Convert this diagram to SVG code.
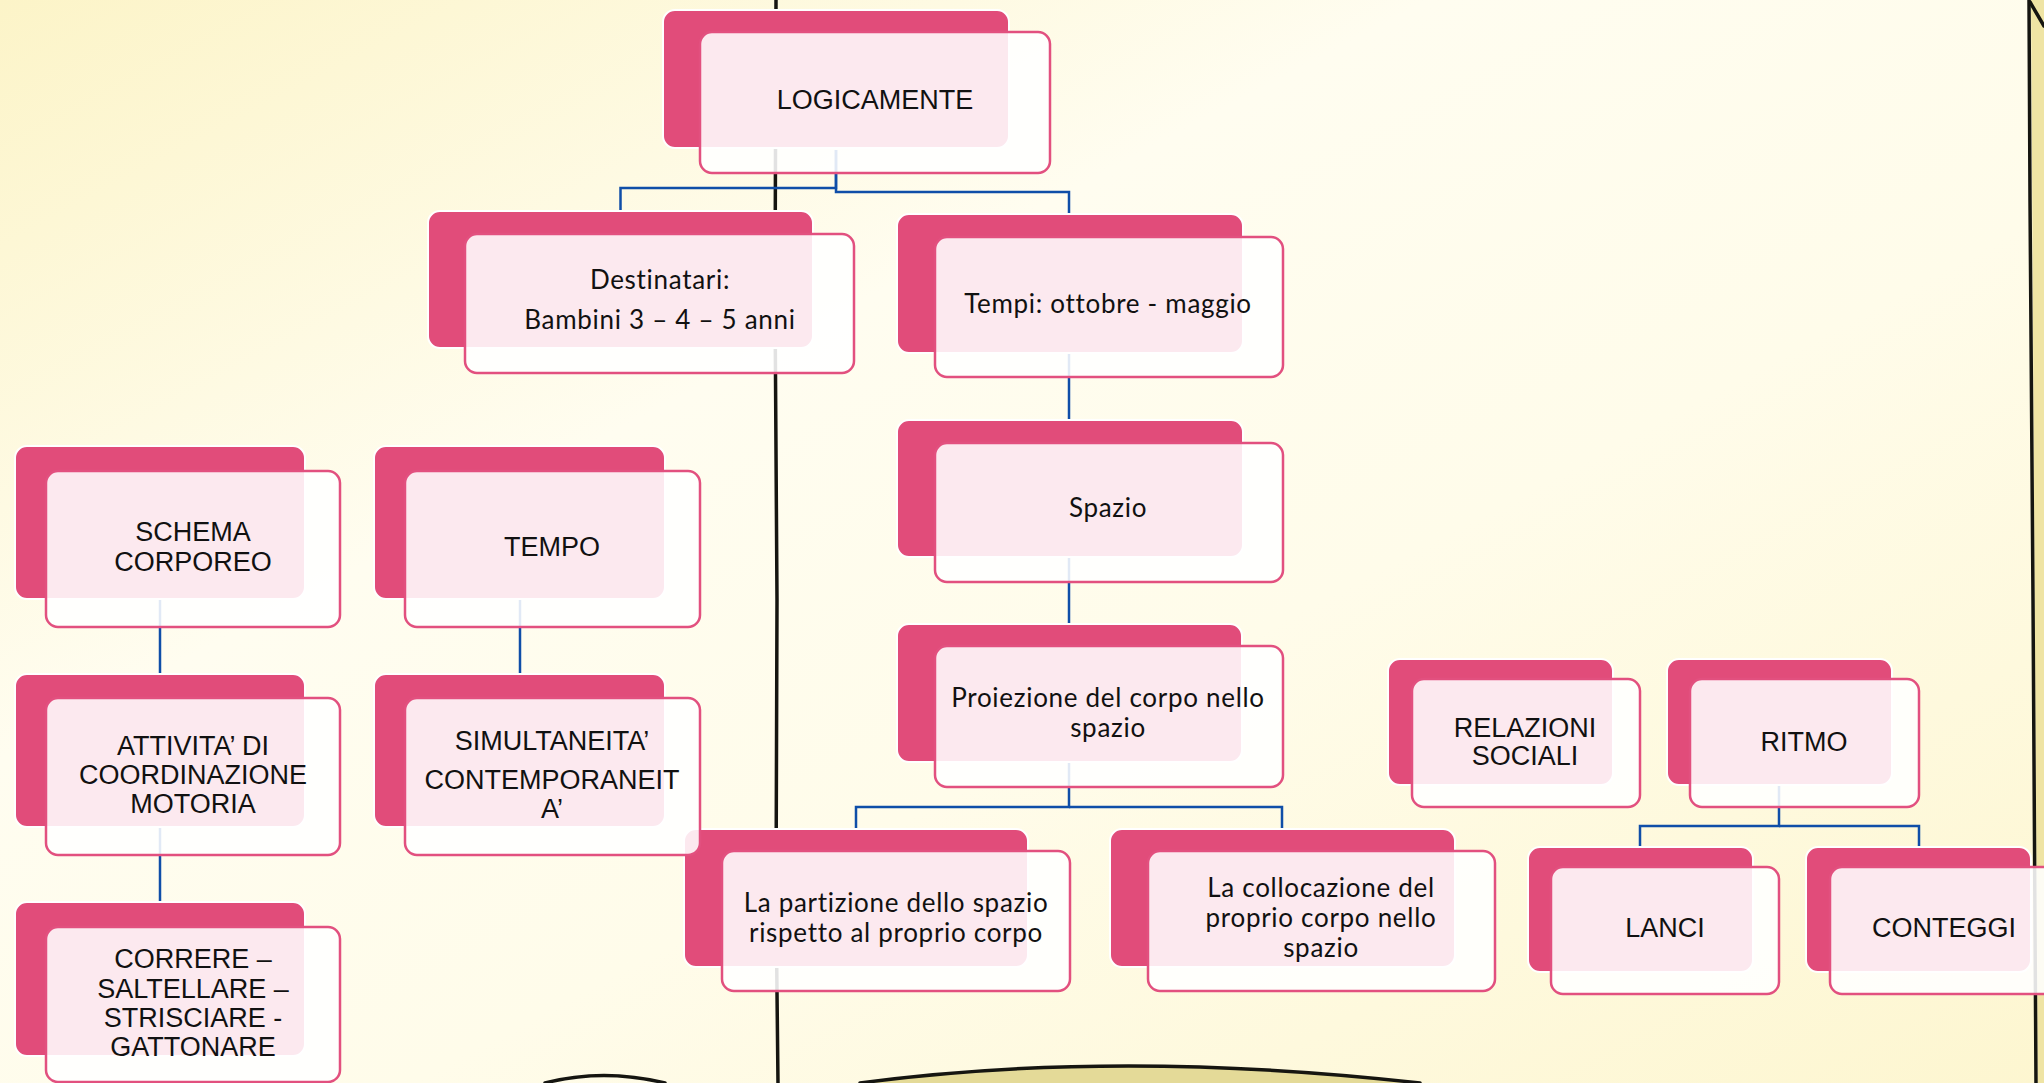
<svg xmlns="http://www.w3.org/2000/svg" width="2044" height="1083" viewBox="0 0 2044 1083">
<defs>
<style>
.back{fill:#E14C7A;stroke:#ffffff;stroke-width:2}
.front{fill:#ffffff;fill-opacity:0.88;stroke:#E2507F;stroke-width:2.5}
.t{font-family:"Liberation Sans",Arial,sans-serif;font-size:27px;fill:#111111;text-anchor:middle}
.l{font-family:Lato,"Liberation Sans",sans-serif;font-size:26px;letter-spacing:0.7px;fill:#111111;text-anchor:middle}
.c{fill:none;stroke:#0F4EA8;stroke-width:2.5}
.book{fill:none;stroke:#151510;stroke-width:3.5;stroke-linecap:round}
</style>
<linearGradient id="bg" x1="0" y1="0" x2="1" y2="1">
<stop offset="0" stop-color="#FCF4C8"/>
<stop offset="0.35" stop-color="#FFFDF0"/>
<stop offset="0.6" stop-color="#FFFCEA"/>
<stop offset="1" stop-color="#FDF6D0"/>
</linearGradient>
</defs>
<rect x="0" y="0" width="2044" height="1083" fill="url(#bg)"/>
<path d="M2031,0 L2044,0 L2044,1083 L2038,1083 L2034,500 Z" fill="#EFE4A4"/>
<path d="M860,1083 Q1117,1049 1420,1083 Z" fill="#E4DA98"/>
<g id="book">
<path class="book" d="M776,0 L775,300 L777,600 L776,900 L778,1083"/>
<path class="book" d="M2029,0 L2030,200 L2033,600 L2036,1083"/>
<path class="book" d="M2030,2 L2044,26"/>
<path class="book" d="M860,1083 Q1117,1049 1420,1083"/>
<path class="book" d="M545,1083 Q603,1068 665,1083"/>
</g>
<g id="connectors">
<path class="c" d="M836,150 V188 H620.5 V211"/>
<path class="c" d="M836,150 V192 H1069 V214"/>
<path class="c" d="M1069,353 V420"/>
<path class="c" d="M1069,557 V624"/>
<path class="c" d="M1069,762 V807 H856 V829"/>
<path class="c" d="M1069,807 H1282 V829"/>
<path class="c" d="M160,599 V674"/>
<path class="c" d="M520,599 V674"/>
<path class="c" d="M160,827 V902"/>
<path class="c" d="M1779,785 V826 H1640 V847"/>
<path class="c" d="M1779,826 H1919 V847"/>
</g>
<g id="n-logicamente">
<rect class="back" x="663" y="10" width="346" height="138" rx="12"/>
<rect class="front" x="700" y="32" width="350" height="141" rx="12"/>
<text class="t" x="875" y="109">LOGICAMENTE</text>
</g>
<g id="n-destinatari">
<rect class="back" x="428" y="211" width="385" height="137" rx="12"/>
<rect class="front" x="465" y="234" width="389" height="139" rx="12"/>
<text class="l" x="660" y="289">Destinatari:</text>
<text class="l" x="660" y="329">Bambini 3 – 4 – 5 anni</text>
</g>
<g id="n-tempi">
<rect class="back" x="897" y="214" width="346" height="139" rx="12"/>
<rect class="front" x="935" y="237" width="348" height="140" rx="12"/>
<text class="l" x="1108" y="313">Tempi: ottobre - maggio</text>
</g>
<g id="n-spazio">
<rect class="back" x="897" y="420" width="346" height="137" rx="12"/>
<rect class="front" x="935" y="443" width="348" height="139" rx="12"/>
<text class="l" x="1108" y="517">Spazio</text>
</g>
<g id="n-proiezione">
<rect class="back" x="897" y="624" width="345" height="138" rx="12"/>
<rect class="front" x="935" y="646" width="348" height="141" rx="12"/>
<text class="l" x="1108" y="707">Proiezione del corpo nello</text>
<text class="l" x="1108" y="737">spazio</text>
</g>
<g id="n-partizione">
<rect class="back" x="684" y="829" width="344" height="138" rx="12"/>
<rect class="front" x="722" y="851" width="348" height="140" rx="12"/>
<text class="l" x="896" y="912">La partizione dello spazio</text>
<text class="l" x="896" y="942">rispetto al proprio corpo</text>
</g>
<g id="n-collocazione">
<rect class="back" x="1110" y="829" width="345" height="138" rx="12"/>
<rect class="front" x="1148" y="851" width="347" height="140" rx="12"/>
<text class="l" x="1321" y="897">La collocazione del</text>
<text class="l" x="1321" y="927">proprio corpo nello</text>
<text class="l" x="1321" y="957">spazio</text>
</g>
<g id="n-schema">
<rect class="back" x="15" y="446" width="290" height="153" rx="12"/>
<rect class="front" x="46" y="471" width="294" height="156" rx="12"/>
<text class="t" x="193" y="541">SCHEMA</text>
<text class="t" x="193" y="571">CORPOREO</text>
</g>
<g id="n-tempo">
<rect class="back" x="374" y="446" width="291" height="153" rx="12"/>
<rect class="front" x="405" y="471" width="295" height="156" rx="12"/>
<text class="t" x="552" y="556">TEMPO</text>
</g>
<g id="n-attivita">
<rect class="back" x="15" y="674" width="290" height="153" rx="12"/>
<rect class="front" x="46" y="698" width="294" height="157" rx="12"/>
<text class="t" x="193" y="755">ATTIVITA’ DI</text>
<text class="t" x="193" y="784">COORDINAZIONE</text>
<text class="t" x="193" y="813">MOTORIA</text>
</g>
<g id="n-simultaneita">
<rect class="back" x="374" y="674" width="291" height="153" rx="12"/>
<rect class="front" x="405" y="698" width="295" height="157" rx="12"/>
<text class="t" x="552" y="750">SIMULTANEITA’</text>
<text class="t" x="552" y="789">CONTEMPORANEIT</text>
<text class="t" x="552" y="818">A’</text>
</g>
<g id="n-correre">
<rect class="back" x="15" y="902" width="290" height="154" rx="12"/>
<rect class="front" x="46" y="927" width="294" height="155" rx="12"/>
<text class="t" x="193" y="968">CORRERE –</text>
<text class="t" x="193" y="998">SALTELLARE –</text>
<text class="t" x="193" y="1027">STRISCIARE -</text>
<text class="t" x="193" y="1056">GATTONARE</text>
</g>
<g id="n-relazioni">
<rect class="back" x="1388" y="659" width="225" height="126" rx="12"/>
<rect class="front" x="1412" y="679" width="228" height="128" rx="12"/>
<text class="t" x="1525" y="737">RELAZIONI</text>
<text class="t" x="1525" y="765">SOCIALI</text>
</g>
<g id="n-ritmo">
<rect class="back" x="1667" y="659" width="225" height="126" rx="12"/>
<rect class="front" x="1690" y="679" width="229" height="128" rx="12"/>
<text class="t" x="1804" y="751">RITMO</text>
</g>
<g id="n-lanci">
<rect class="back" x="1528" y="847" width="225" height="125" rx="12"/>
<rect class="front" x="1551" y="867" width="228" height="127" rx="12"/>
<text class="t" x="1665" y="937">LANCI</text>
</g>
<g id="n-conteggi">
<rect class="back" x="1806" y="847" width="225" height="125" rx="12"/>
<rect class="front" x="1830" y="867" width="228" height="127" rx="12"/>
<text class="t" x="1944" y="937">CONTEGGI</text>
</g>
</svg>
